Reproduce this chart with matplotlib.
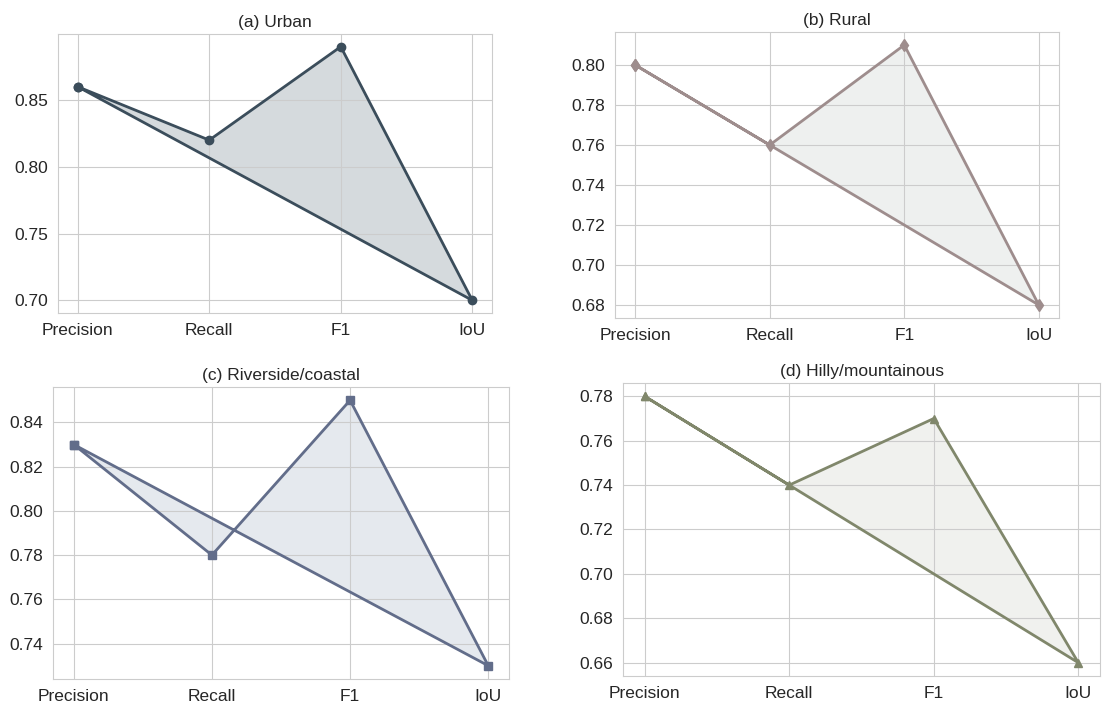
import numpy as np
import matplotlib
matplotlib.use("Agg")
import matplotlib.pyplot as plt
import seaborn as sns

sns.set_style("whitegrid")
plt.rcParams['font.family'] = ['Arial', 'Liberation Sans', 'DejaVu Sans']

# metrics per terrain type
metrics = ["Precision", "Recall", "F1", "IoU"]
urban = [0.86, 0.82, 0.89, 0.70]
rural = [0.80, 0.76, 0.81, 0.68]
riverside = [0.83, 0.78, 0.85, 0.73]
hilly = [0.78, 0.74, 0.77, 0.66]

titles = ["(a) Urban", "(b) Rural", "(c) Riverside/coastal", "(d) Hilly/mountainous"]
colors = ["#3b4d5b", "#9e8d8d", "#626d8a", "#80876b"]
fills = ["#d5dadd", "#eef0ef", "#e5e9ee", "#f0f1ee"]
markers = ["o", "d", "s", "^"]
yticks = [np.arange(0.70, 0.86, 0.05), np.arange(0.68, 0.81, 0.02),
          np.arange(0.74, 0.85, 0.02), np.arange(0.66, 0.79, 0.02)]

# axes boxes in pixels: left, top, right, bottom
W, H = 1102, 707
boxes = [(58, 34, 492, 313), (615, 32, 1059, 318),
         (53, 387, 509, 679), (623, 383, 1100, 676)]

fig = plt.figure(figsize=(W / 100, H / 100), dpi=100)

x = np.arange(len(metrics))
for vals, title, c, fc, m, yt, b in zip([urban, rural, riverside, hilly], titles,
                                        colors, fills, markers, yticks, boxes):
    l, t, r, btm = b
    ax = fig.add_axes([l / W, 1 - btm / H, (r - l) / W, (btm - t) / H])
    # close the polygon back to the first metric
    xs = np.append(x, x[0])
    ys = np.append(vals, vals[0])
    ax.fill(xs, ys, color=fc, zorder=2)
    ax.plot(xs, ys, color=c, marker=m, linewidth=2, markersize=6, zorder=3)
    ax.set_xticks(x)
    ax.set_xticklabels(metrics)
    ax.set_yticks(yt)
    ax.set_yticklabels([f"{v:.2f}" for v in yt])
    ax.set_title(title, fontsize=12.5, pad=5)
    ax.tick_params(labelsize=12.5)
    ax.set_xlim(-0.15, 3.15)
    pad = (max(vals) - min(vals)) * 0.05
    ax.set_ylim(min(vals) - pad, max(vals) + pad)
    ax.set_axisbelow(False)
    for s in ax.spines.values():
        s.set_zorder(4)

fig.savefig("out.png", dpi=100)
